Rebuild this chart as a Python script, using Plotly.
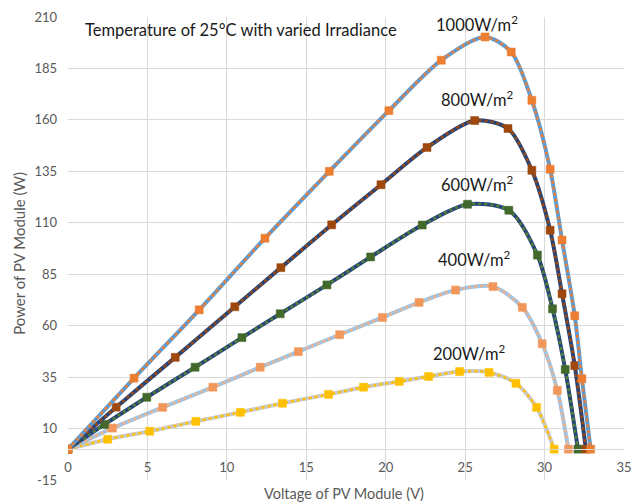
import plotly.graph_objects as go

v1000 = [0, 4.16, 8.26, 12.4, 16.45, 20.2, 23.5, 26.25, 27.9, 29.2, 30.35, 31.1, 31.9, 32.35, 32.9]
p1000 = [0, 34.5, 67.7, 102.5, 135, 164.5, 189, 200.3, 193, 169.5, 136, 101.6, 64.8, 34.2, 0]

v800 = [0, 3.03, 6.75, 10.5, 13.4, 16.6, 19.7, 22.6, 25.6, 27.7, 29.2, 30.35, 31.1, 31.9, 32.6]
p800 = [0, 20.4, 44.6, 69.2, 88.2, 109, 128.5, 146.6, 159.7, 155.8, 135.5, 106.4, 75.5, 40.6, 0]

v600 = [0, 2.3, 4.96, 8.0, 10.95, 13.36, 16.3, 19.05, 22.3, 25.15, 27.75, 29.55, 30.5, 31.3, 32.1]
p600 = [0, 12, 25.2, 39.8, 54.2, 65.8, 79.8, 93.4, 108.9, 119, 116.1, 94.3, 68.2, 38.7, 0]

v400 = [0, 2.8, 5.96, 9.12, 12.1, 14.5, 17.1, 19.8, 22.1, 24.4, 26.75, 28.6, 29.85, 30.8, 31.5]
p400 = [0, 10.2, 20.3, 30.1, 39.8, 47.4, 55.6, 64, 71.3, 77.3, 79, 68.9, 51.2, 28.6, 0]

v200 = [0, 2.5, 5.15, 8.05, 10.85, 13.5, 16.4, 18.6, 20.85, 22.7, 24.65, 26.5, 28.2, 29.5, 30.6]
p200 = [0, 4.8, 8.7, 13.5, 17.9, 22.3, 26.6, 30.1, 32.9, 35.3, 37.7, 37.3, 32, 20.3, 0]

labels = ["1000W/m<sup>2</sup>", "800W/m<sup>2</sup>", "600W/m<sup>2</sup>", "400W/m<sup>2</sup>", "200W/m<sup>2</sup>"]
label_v = [25.75, 25.8, 25.8, 25.6, 25.25]
label_p = [206.6, 170.3, 128.7, 92.4, 46.9]

x_ticks = [0, 5, 10, 15, 20, 25, 30, 35]
y_ticks = [-15, 10, 35, 60, 85, 110, 135, 160, 185, 210]

series = [
    (v1000, p1000, "#5B9BD5", "#ED7D31", "#ED7D31"),
    (v800, p800, "#264478", "#9E480E", "#9E480E"),
    (v600, p600, "#264478", "#548235", "#43682B"),
    (v400, p400, "#9DC3E6", "#F4B183", "#F1975A"),
    (v200, p200, "#C9C9C9", "#FFC000", "#FFC000"),
]

fig = go.Figure()
for v, p, base, dot, mk in reversed(series):
    fig.add_trace(go.Scatter(x=v, y=p, mode="lines",
                             line=dict(color=base, width=4, shape="spline", smoothing=0.8),
                             hoverinfo="skip", showlegend=False))
    fig.add_trace(go.Scatter(x=v, y=p, mode="lines+markers",
                             line=dict(color=dot, width=2.5, dash="dot", shape="spline", smoothing=0.8),
                             marker=dict(symbol="square", size=8, color=mk,
                                         line=dict(width=0.5, color=mk)),
                             showlegend=False))

font_family = "Lato, 'Liberation Sans', sans-serif"

annotations = []
for t, xv, yv in zip(labels, label_v, label_p):
    annotations.append(dict(x=xv, y=yv, xref="x", yref="y", text=t, showarrow=False,
                            xanchor="center", yanchor="middle",
                            font=dict(size=16.5, color="#1a1a1a", family=font_family)))
annotations.append(dict(x=0.93, y=203.7, xref="x", yref="y", xanchor="left", yanchor="middle",
                        text="Temperature of 25\u00b0C with varied Irradiance", showarrow=False,
                        font=dict(size=16.5, color="#1a1a1a", family=font_family)))
annotations.append(dict(x=-0.0887, y=0.49, xref="paper", yref="paper", textangle=-90,
                        xanchor="center", yanchor="middle",
                        text="Power of PV Module (W)", showarrow=False,
                        font=dict(size=15, color="#595959", family=font_family)))
annotations.append(dict(x=0.4965, y=-0.030, xref="paper", yref="paper",
                        xanchor="center", yanchor="middle",
                        text="Voltage of PV Module (V)", showarrow=False,
                        font=dict(size=14.5, color="#595959", family=font_family)))

fig.update_layout(
    width=641, height=502,
    margin=dict(l=68, r=9, t=15, b=22),
    paper_bgcolor="white", plot_bgcolor="white",
    annotations=annotations,
    xaxis=dict(range=[0, 35], tickvals=x_ticks, ticktext=[str(t) for t in x_ticks],
               showgrid=True, gridcolor="#D9D9D9", gridwidth=1,
               zeroline=False, showline=True, linecolor="#D9D9D9", linewidth=1,
               anchor="free", position=15 / 225, ticks="", ticklabelstandoff=6,
               tickfont=dict(size=13, color="#595959", family=font_family)),
    yaxis=dict(range=[-15, 210], tickvals=y_ticks, ticktext=[str(t) for t in y_ticks],
               domain=[0, 1],
               showgrid=True, gridcolor="#D9D9D9", gridwidth=1, zeroline=False,
               ticks="", ticklabelstandoff=10,
               tickfont=dict(size=13, color="#595959", family=font_family)),
)

fig.write_html("out.html", config={"displayModeBar": False},
               post_script="document.body.style.margin='0';document.body.style.overflow='hidden';")
